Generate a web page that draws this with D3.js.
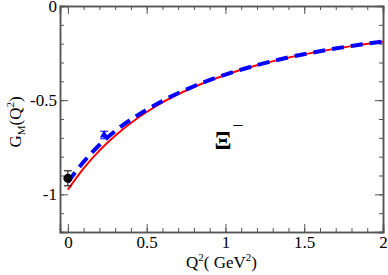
<!DOCTYPE html>
<html>
<head>
<meta charset="utf-8">
<script src="https://cdn.jsdelivr.net/npm/d3@7"></script>
<style>
  body { margin: 0; background: #fff; }
  svg text { font-family: "Liberation Serif", "Times New Roman", "DejaVu Serif", serif !important; }
</style>
</head>
<body>
<div id="chart"></div>
<script>
// curve data
var q2 = [0, 0.1, 0.2, 0.3, 0.4, 0.5, 0.6, 0.8, 1.0, 1.2, 1.4, 1.6, 1.8, 2.0];
var redVals = [-0.975, -0.862, -0.768, -0.689, -0.621, -0.563, -0.512, -0.430, -0.366, -0.315, -0.274, -0.241, -0.213, -0.190];
var blueVals = [-0.935, -0.827, -0.738, -0.664, -0.603, -0.551, -0.504, -0.426, -0.364, -0.314, -0.273, -0.240, -0.212, -0.189];

// experimental points
var circlePt = {x: 0, y: -0.915, err: 0.04};
var trianglePt = {x: 0.23, y: -0.685, err: 0.02};

var xTicks = [0, 0.5, 1, 1.5, 2];
var yTicks = [0, -0.5, -1];

var W = 388, H = 275;
var margin = {top: 6, right: 5, bottom: 43, left: 60};
var width = W - margin.left - margin.right,
    height = H - margin.top - margin.bottom;

var svg = d3.select("#chart").append("svg")
    .attr("width", W)
    .attr("height", H);

var g = svg.append("g")
    .attr("transform", "translate(" + margin.left + "," + margin.top + ")");

var x = d3.scaleLinear().domain([-0.05, 2]).range([0, width]);
var y = d3.scaleLinear().domain([-1.2, 0]).range([height, 0]);

var axisColor = "#555";
var fmt = function(d){ return d === 0 ? "0" : String(d); };

// minor ticks every 0.1
var xMinor = d3.range(0, 2.001, 0.1);
var yMinor = d3.range(-1.2, 0.001, 0.1);

// bottom axis
g.append("g").attr("transform", "translate(0," + height + ")")
  .call(d3.axisBottom(x).tickValues(xMinor).tickSize(-4).tickFormat(""));
g.append("g").attr("transform", "translate(0," + height + ")")
  .call(d3.axisBottom(x).tickValues(xTicks).tickSize(-8).tickPadding(4).tickFormat(fmt));

// top axis
g.append("g")
  .call(d3.axisTop(x).tickValues(xMinor).tickSize(-4).tickFormat(""));
g.append("g")
  .call(d3.axisTop(x).tickValues(xTicks).tickSize(-8).tickFormat(""));

// left axis
g.append("g")
  .call(d3.axisLeft(y).tickValues(yMinor).tickSize(-4).tickFormat(""));
g.append("g")
  .call(d3.axisLeft(y).tickValues(yTicks).tickSize(-8).tickPadding(3).tickFormat(fmt));

// right axis
g.append("g").attr("transform", "translate(" + width + ",0)")
  .call(d3.axisRight(y).tickValues(yMinor).tickSize(-4).tickFormat(""));
g.append("g").attr("transform", "translate(" + width + ",0)")
  .call(d3.axisRight(y).tickValues(yTicks).tickSize(-8).tickFormat(""));

g.selectAll(".domain").attr("stroke", axisColor).attr("stroke-width", 1.5);
g.selectAll(".tick line").attr("stroke", axisColor);
g.selectAll(".tick text")
  .attr("fill", "#000")
  .style("font-size", "17px");

var red = q2.map(function(d, i){ return {x: d, y: redVals[i]}; });
var blue = q2.map(function(d, i){ return {x: d, y: blueVals[i]}; });

var line = d3.line()
  .curve(d3.curveMonotoneX)
  .x(function(d){ return x(d.x); })
  .y(function(d){ return y(d.y); });

g.append("path").datum(red)
  .attr("fill", "none")
  .attr("stroke", "#ff0000")
  .attr("stroke-width", 2)
  .attr("d", line);

g.append("path").datum(blue)
  .attr("fill", "none")
  .attr("stroke", "#0000ff")
  .attr("stroke-width", 4)
  .attr("stroke-dasharray", "12,7")
  .attr("d", line);

// error bars
function errBar(p, color) {
  var cx = x(p.x);
  g.append("line")
    .attr("x1", cx).attr("x2", cx)
    .attr("y1", y(p.y + p.err)).attr("y2", y(p.y - p.err))
    .attr("stroke", color).attr("stroke-width", 1);
  [p.y + p.err, p.y - p.err].forEach(function(v){
    g.append("line")
      .attr("x1", cx - 4).attr("x2", cx + 4)
      .attr("y1", y(v)).attr("y2", y(v))
      .attr("stroke", color).attr("stroke-width", 1);
  });
}
errBar(circlePt, "#000");
errBar(trianglePt, "#0000ff");

g.append("circle")
  .attr("cx", x(circlePt.x))
  .attr("cy", y(circlePt.y))
  .attr("r", 4.5)
  .attr("fill", "#000");

g.append("path")
  .attr("d", d3.symbol().type(d3.symbolTriangle).size(30))
  .attr("transform", "translate(" + x(trianglePt.x) + "," + y(trianglePt.y) + ")")
  .attr("fill", "#0000ff");

// particle label
var lab = g.append("text")
  .attr("x", x(0.93))
  .attr("y", y(-0.76))
  .style("font-size", "25px")
  .style("font-weight", "bold");
lab.append("tspan").text("Ξ");
lab.append("tspan")
  .attr("dy", -17)
  .attr("dx", 1)
  .style("font-size", "20px")
  .style("font-weight", "normal")
  .text("−");

// x axis title, centred on the plot
var xt = svg.append("text")
  .attr("x", margin.left + width / 2)
  .attr("y", 268)
  .attr("text-anchor", "middle")
  .style("font-size", "17px");
xt.append("tspan").text("Q");
xt.append("tspan").attr("dy", -7).style("font-size", "11px").text("2");
xt.append("tspan").attr("dy", 7).text("( GeV");
xt.append("tspan").attr("dy", -7).style("font-size", "11px").text("2");
xt.append("tspan").attr("dy", 7).text(")");

// y axis title
var yt = svg.append("text")
  .attr("transform", "translate(21,122) rotate(-90)")
  .attr("text-anchor", "middle")
  .style("font-size", "17px");
yt.append("tspan").text("G");
yt.append("tspan").attr("dy", 4).style("font-size", "11px").text("M");
yt.append("tspan").attr("dy", -4).text("(Q");
yt.append("tspan").attr("dy", -7).style("font-size", "11px").text("2");
yt.append("tspan").attr("dy", 7).text(")");
</script>
</body>
</html>
